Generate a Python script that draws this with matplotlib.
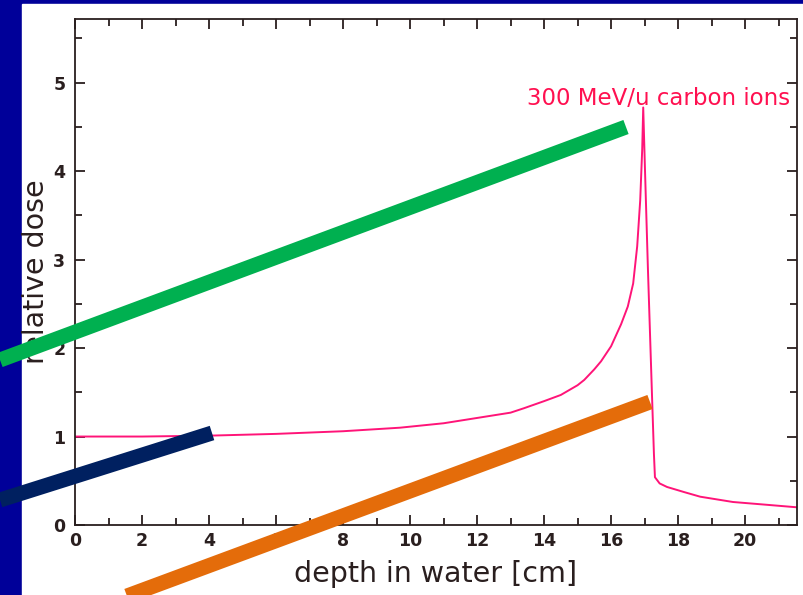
import matplotlib
matplotlib.use("Agg")
import matplotlib.pyplot as plt
from matplotlib.lines import Line2D
from matplotlib.patches import Rectangle
from matplotlib.ticker import MultipleLocator

# Bragg curve
depth_cm = [0, 2, 4, 6, 8, 9.7, 11, 12, 13.0, 13.4, 14.0, 14.5, 15.0, 15.2,
            15.5, 15.7, 16.0, 16.3, 16.5, 16.66, 16.78, 16.87, 16.93, 16.96,
            17.01, 17.1, 17.22, 17.28, 17.31, 17.45, 17.67, 18.2, 18.66,
            19.64, 20.6, 21.55]
rel_dose = [1.0, 1.0, 1.01, 1.03, 1.06, 1.10, 1.15, 1.21, 1.27, 1.32, 1.40,
            1.47, 1.58, 1.64, 1.76, 1.85, 2.02, 2.27, 2.47, 2.73, 3.15, 3.67,
            4.25, 4.72, 4.05, 2.9, 1.49, 0.8, 0.54, 0.47, 0.43, 0.37, 0.32,
            0.26, 0.23, 0.20]

x_ticks = [0, 2, 4, 6, 8, 10, 12, 14, 16, 18, 20]
y_ticks = [0, 1, 2, 3, 4, 5]
curve_label = "300 MeV/u carbon ions"

# decorative slide strokes, figure pixels (x0, y0, x1, y1) measured from top-left
strokes = [
    ("#00B050", (0, 360, 626, 127)),
    ("#002060", (0, 500, 212, 433)),
    ("#E46C0A", (100, 606, 650, 402)),
]

W, H = 804, 595
fig = plt.figure(figsize=(W / 100, H / 100), dpi=100)
fig.patch.set_facecolor("#000099")
fig.add_artist(Rectangle((22 / W, 0), 1 - 22 / W, 1 - 4 / H,
                         transform=fig.transFigure, color="white", zorder=0))

ax = fig.add_axes([75 / W, 1 - 525 / H, (797 - 75) / W, (525 - 19) / H])
ax.set_facecolor("white")
ink = "#2a1f1f"

ax.plot(depth_cm, rel_dose, color="#FF1478", lw=1.4)
ax.set_xlim(0, 21.55)
ax.set_ylim(0, 5.72)

ax.set_xticks(x_ticks)
ax.set_yticks(y_ticks)
ax.xaxis.set_minor_locator(MultipleLocator(1))
ax.yaxis.set_minor_locator(MultipleLocator(0.5))
tickfont = {"family": "DejaVu Sans", "weight": "bold", "size": 12.5}
ax.set_xticklabels([str(t) for t in x_ticks], fontdict=tickfont, color=ink)
ax.set_yticklabels([str(t) for t in y_ticks], fontdict=tickfont, color=ink)
ax.tick_params(which="both", direction="in", top=True, right=True, color=ink, width=1.3)
ax.tick_params(which="major", length=7)
ax.tick_params(which="minor", length=5)
ax.tick_params(axis="x", pad=5)
ax.tick_params(axis="y", pad=7)
for s in ax.spines.values():
    s.set_color(ink)
    s.set_linewidth(1.3)

labfont = {"family": "DejaVu Sans", "size": 20.5, "color": ink}
ax.set_xlabel("depth in water [cm]", labelpad=7, **labfont)
ax.set_ylabel("relative dose", labelpad=2, **labfont)

ax.text(13.5, 4.75, curve_label, color="#FF1050", fontsize=16.5,
        family="DejaVu Sans", va="baseline", ha="left")

for color, (x0, y0, x1, y1) in strokes:
    fig.add_artist(Line2D([x0 / W, x1 / W], [1 - y0 / H, 1 - y1 / H],
                          transform=fig.transFigure, color=color, lw=10.8,
                          solid_capstyle="butt", zorder=10))

fig.savefig("out.png", dpi=100, facecolor=fig.get_facecolor())
